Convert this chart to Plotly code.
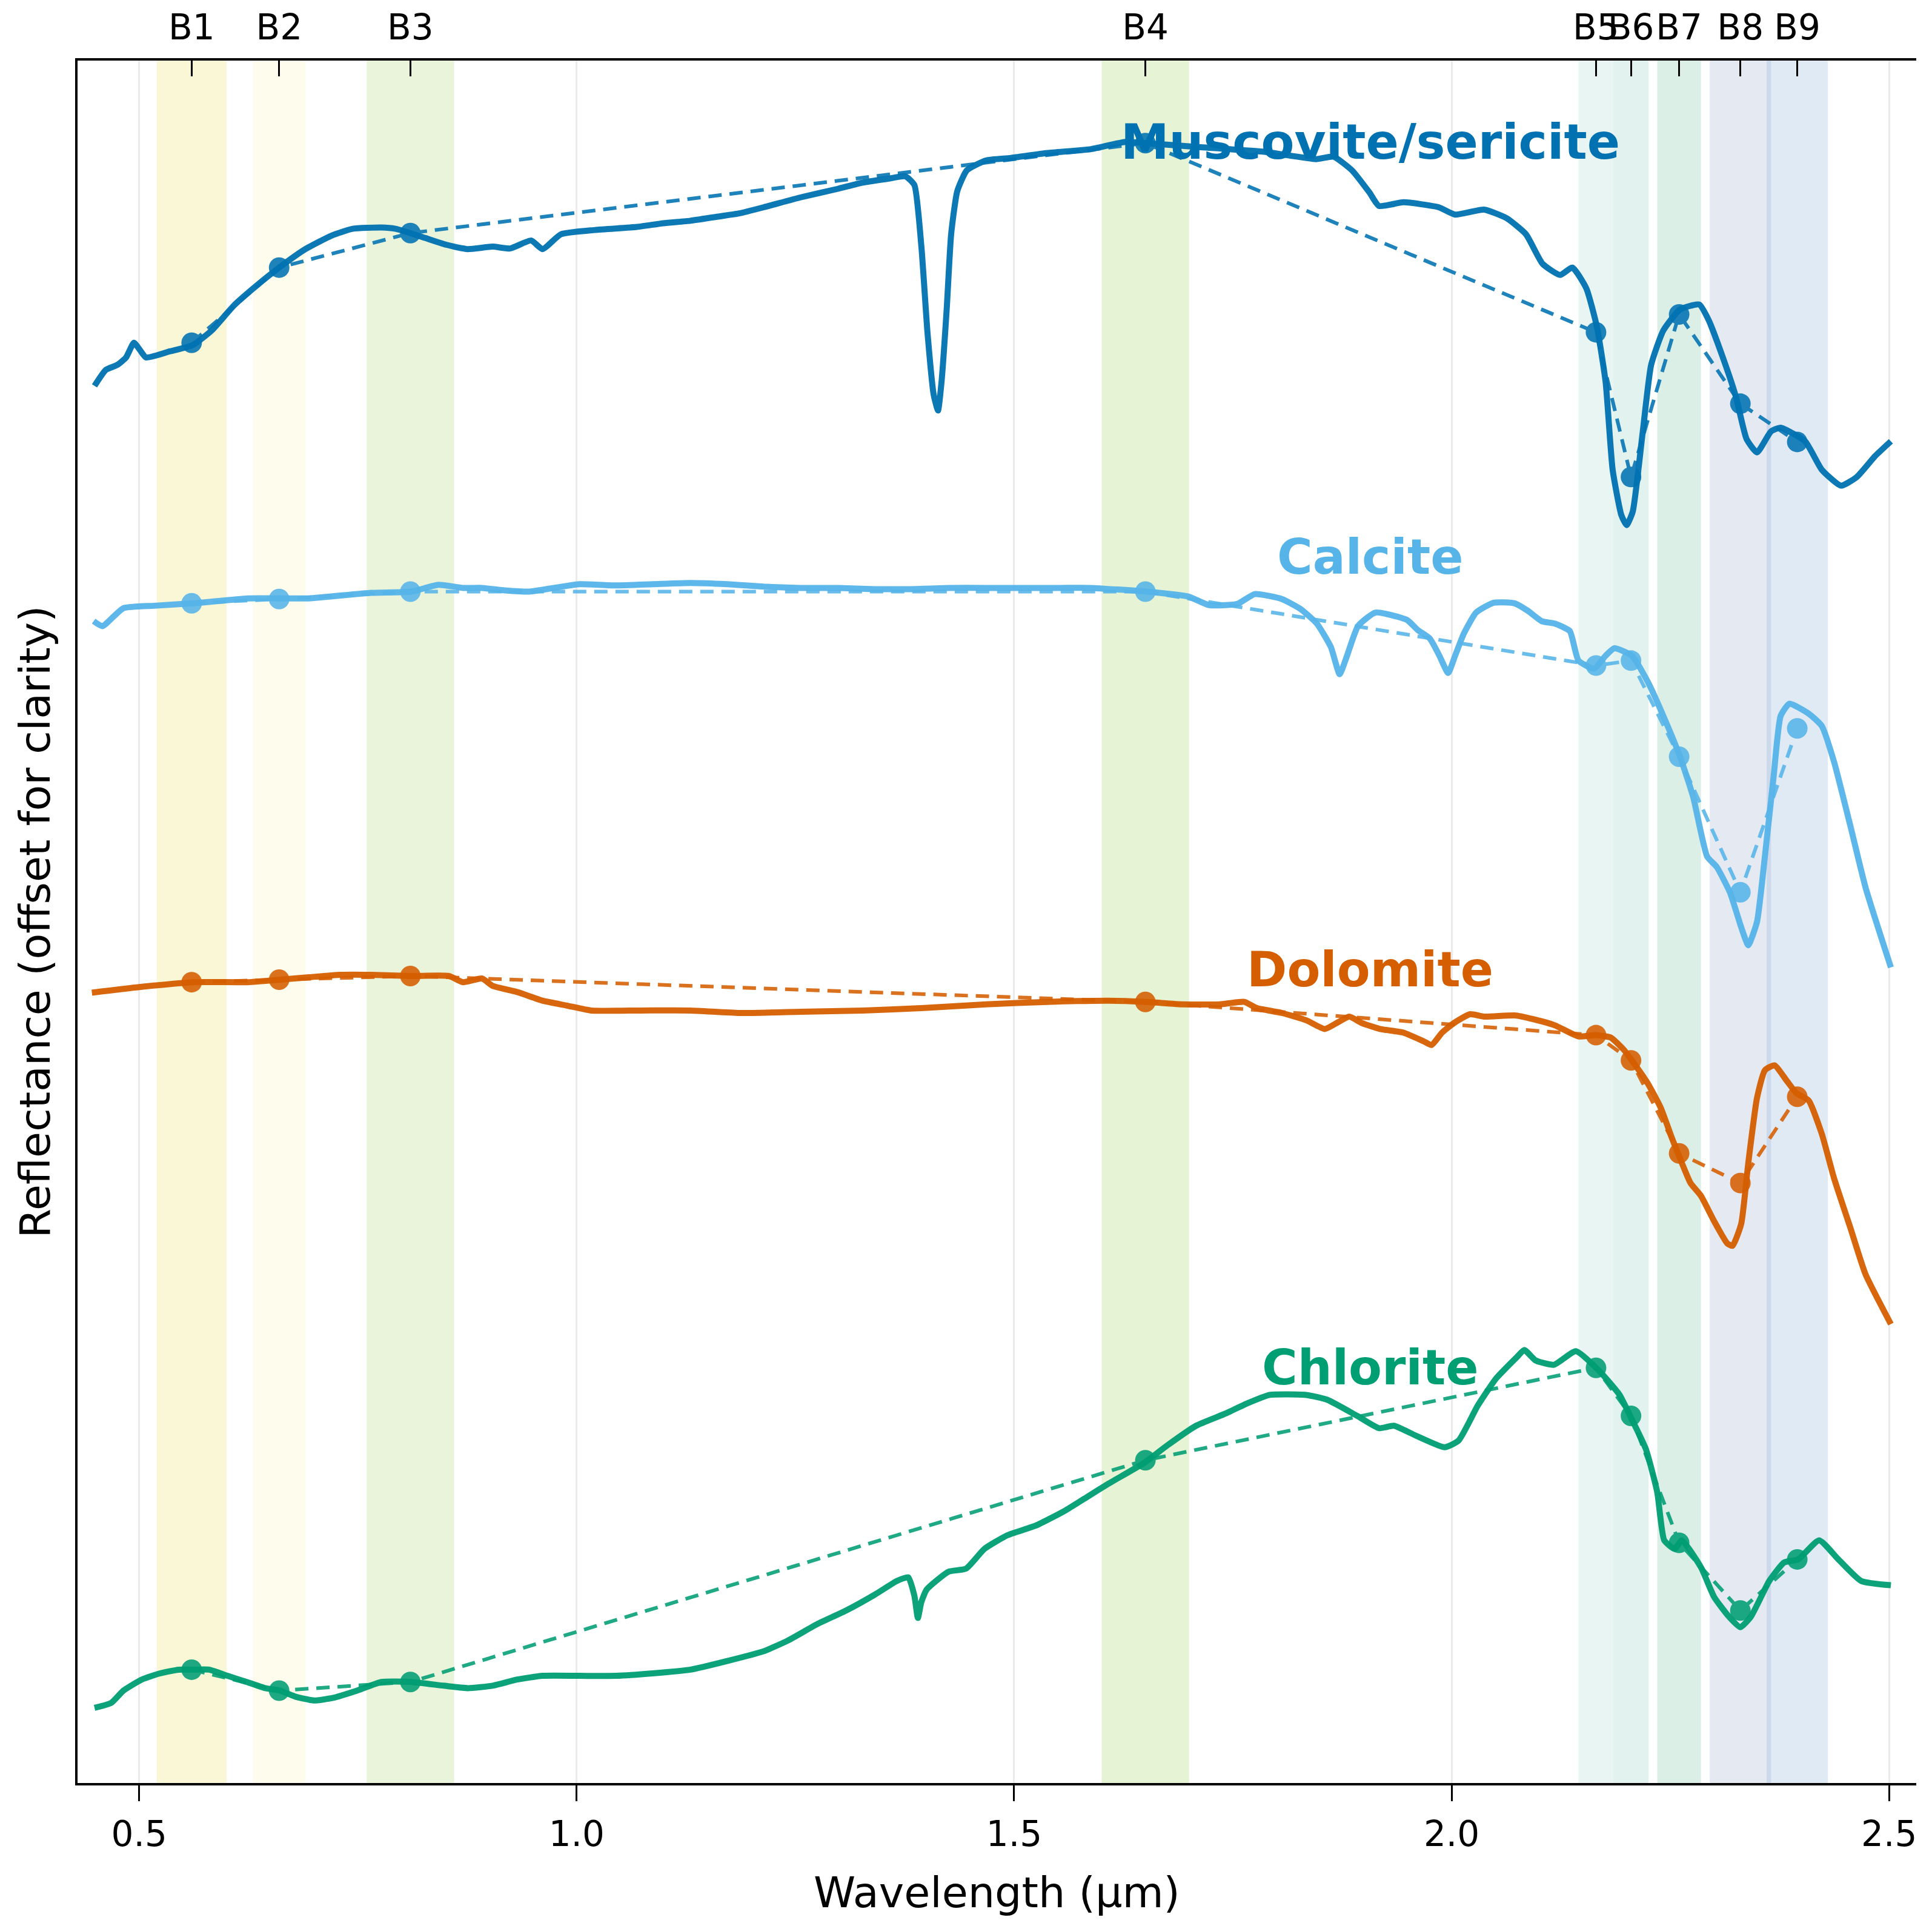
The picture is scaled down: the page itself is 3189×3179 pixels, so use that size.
#!/usr/bin/env python3

import plotly.graph_objects as go

# ASTER bands (um)
band_names = ['B1', 'B2', 'B3', 'B4', 'B5', 'B6', 'B7', 'B8', 'B9']
band_centers = [0.56, 0.66, 0.81, 1.65, 2.165, 2.205, 2.26, 2.33, 2.395]
band_lo = [0.52, 0.63, 0.76, 1.60, 2.145, 2.185, 2.235, 2.295, 2.360]
band_hi = [0.60, 0.69, 0.86, 1.70, 2.185, 2.225, 2.285, 2.365, 2.430]
band_fill = ['rgba(235,225,90,0.25)', 'rgba(245,235,130,0.15)', 'rgba(170,210,110,0.25)',
             'rgba(165,210,100,0.27)', 'rgba(150,210,195,0.22)', 'rgba(140,205,190,0.25)',
             'rgba(110,190,160,0.25)', 'rgba(160,175,210,0.28)', 'rgba(130,170,215,0.25)']

# spectra, offset for clarity
musc_wl = [0.449, 0.462, 0.475, 0.485, 0.494, 0.501, 0.508, 0.535, 0.561, 0.583, 0.608, 0.632,
           0.662, 0.690, 0.720, 0.744, 0.777, 0.793, 0.810, 0.827, 0.851, 0.875, 0.904, 0.924,
           0.948, 0.961, 0.982, 1.021, 1.069, 1.099, 1.130, 1.158, 1.186, 1.214, 1.256, 1.299,
           1.327, 1.355, 1.376, 1.386, 1.394, 1.401, 1.408, 1.413, 1.417, 1.423, 1.428, 1.435,
           1.446, 1.468, 1.496, 1.538, 1.587, 1.627, 1.651, 1.706, 1.786, 1.845, 1.865, 1.886,
           1.906, 1.917, 1.945, 1.985, 2.004, 2.037, 2.063, 2.085, 2.104, 2.124, 2.138, 2.154,
           2.166, 2.176, 2.184, 2.194, 2.200, 2.207, 2.218, 2.228, 2.242, 2.261, 2.283, 2.294,
           2.313, 2.325, 2.337, 2.349, 2.365, 2.376, 2.404, 2.423, 2.445, 2.463, 2.484, 2.502]
musc_r = [11.34, 11.47, 11.51, 11.57, 11.69, 11.63, 11.57, 11.62, 11.67, 11.79, 11.99, 12.14,
          12.31, 12.45, 12.56, 12.615, 12.625, 12.615, 12.58, 12.54, 12.485, 12.45, 12.47, 12.455,
          12.52, 12.45, 12.57, 12.605, 12.63, 12.66, 12.68, 12.71, 12.74, 12.79, 12.87, 12.94,
          12.99, 13.02, 13.04, 12.97, 12.47, 11.77, 11.27, 11.14, 11.37, 11.97, 12.57, 12.92,
          13.09, 13.17, 13.19, 13.23, 13.26, 13.32, 13.31, 13.28, 13.24, 13.18, 13.20, 13.09,
          12.91, 12.80, 12.83, 12.79, 12.73, 12.77, 12.70, 12.57, 12.33, 12.24, 12.30, 12.13,
          11.82, 11.37, 10.66, 10.29, 10.21, 10.32, 10.94, 11.51, 11.79, 11.96, 12.00, 11.87,
          11.51, 11.25, 10.91, 10.80, 10.97, 11.00, 10.89, 10.66, 10.53, 10.60, 10.77, 10.89]

calc_wl = [0.448, 0.458, 0.482, 0.517, 0.562, 0.624, 0.661, 0.694, 0.765, 0.811, 0.842, 0.870,
           0.892, 0.918, 0.946, 1.003, 1.045, 1.087, 1.130, 1.172, 1.214, 1.256, 1.299, 1.341,
           1.383, 1.425, 1.468, 1.510, 1.552, 1.587, 1.651, 1.699, 1.723, 1.755, 1.775, 1.806,
           1.827, 1.846, 1.862, 1.872, 1.880, 1.893, 1.913, 1.949, 1.961, 1.975, 1.986, 1.996,
           2.004, 2.014, 2.028, 2.048, 2.072, 2.087, 2.103, 2.118, 2.135, 2.145, 2.163, 2.176,
           2.186, 2.206, 2.224, 2.242, 2.261, 2.276, 2.292, 2.303, 2.318, 2.331, 2.339, 2.349,
           2.358, 2.368, 2.376, 2.386, 2.408, 2.423, 2.437, 2.456, 2.473, 2.502]
calc_r = [9.43, 9.39, 9.535, 9.555, 9.575, 9.615, 9.615, 9.615, 9.66, 9.67, 9.725, 9.70,
          9.70, 9.68, 9.67, 9.73, 9.72, 9.73, 9.74, 9.73, 9.71, 9.70, 9.70, 9.69,
          9.69, 9.70, 9.70, 9.70, 9.70, 9.70, 9.67, 9.63, 9.56, 9.57, 9.65, 9.61,
          9.53, 9.41, 9.22, 9.00, 9.14, 9.39, 9.50, 9.44, 9.36, 9.29, 9.15, 9.01,
          9.15, 9.33, 9.50, 9.58, 9.575, 9.515, 9.43, 9.41, 9.35, 9.11, 9.045, 9.15,
          9.21, 9.15, 8.94, 8.66, 8.33, 8.005, 7.52, 7.435, 7.23, 6.945, 6.80, 6.99,
          7.52, 8.17, 8.66, 8.76, 8.68, 8.58, 8.29, 7.76, 7.27, 6.62]

dolo_wl = [0.446, 0.500, 0.562, 0.624, 0.661, 0.694, 0.730, 0.765, 0.811, 0.854, 0.870, 0.892,
           0.904, 0.932, 0.961, 0.989, 1.017, 1.073, 1.130, 1.186, 1.256, 1.327, 1.397, 1.468,
           1.538, 1.608, 1.651, 1.693, 1.735, 1.763, 1.777, 1.806, 1.834, 1.855, 1.869, 1.883,
           1.897, 1.918, 1.945, 1.968, 1.977, 1.989, 2.003, 2.021, 2.038, 2.072, 2.093, 2.118,
           2.145, 2.165, 2.182, 2.197, 2.206, 2.224, 2.239, 2.252, 2.261, 2.273, 2.285, 2.300,
           2.315, 2.321, 2.331, 2.339, 2.349, 2.358, 2.369, 2.383, 2.394, 2.408, 2.423, 2.437,
           2.456, 2.473, 2.502]
dolo_r = [6.415, 6.46, 6.50, 6.50, 6.52, 6.54, 6.56, 6.56, 6.55, 6.55, 6.50, 6.53,
          6.47, 6.42, 6.35, 6.31, 6.27, 6.27, 6.27, 6.25, 6.26, 6.27, 6.29, 6.32,
          6.34, 6.35, 6.34, 6.32, 6.32, 6.34, 6.29, 6.25, 6.19, 6.12, 6.17, 6.22,
          6.17, 6.12, 6.09, 6.02, 5.99, 6.09, 6.17, 6.24, 6.22, 6.23, 6.20, 6.15,
          6.06, 6.07, 6.05, 5.95, 5.865, 5.68, 5.48, 5.23, 5.07, 4.87, 4.765, 4.56,
          4.38, 4.36, 4.54, 5.03, 5.56, 5.785, 5.825, 5.70, 5.60, 5.54, 5.27, 4.91,
          4.50, 4.13, 3.725]

chlo_wl = [0.449, 0.468, 0.482, 0.503, 0.524, 0.545, 0.561, 0.580, 0.601, 0.623, 0.644, 0.661,
           0.679, 0.700, 0.721, 0.749, 0.777, 0.811, 0.848, 0.876, 0.904, 0.932, 0.961, 1.003,
           1.045, 1.087, 1.130, 1.172, 1.214, 1.241, 1.275, 1.308, 1.341, 1.366, 1.379, 1.386,
           1.390, 1.394, 1.400, 1.425, 1.445, 1.466, 1.492, 1.525, 1.558, 1.583, 1.608, 1.649,
           1.675, 1.708, 1.742, 1.766, 1.792, 1.834, 1.858, 1.892, 1.917, 1.934, 1.959, 1.992,
           2.008, 2.030, 2.051, 2.075, 2.083, 2.096, 2.117, 2.142, 2.168, 2.192, 2.204, 2.222,
           2.235, 2.243, 2.255, 2.263, 2.285, 2.300, 2.317, 2.330, 2.342, 2.363, 2.380, 2.396,
           2.420, 2.442, 2.468, 2.502]
chlo_r = [0.61, 0.65, 0.75, 0.84, 0.89, 0.92, 0.92, 0.92, 0.87, 0.82, 0.77, 0.75,
          0.70, 0.67, 0.69, 0.75, 0.82, 0.82, 0.79, 0.77, 0.79, 0.84, 0.87, 0.87,
          0.87, 0.89, 0.92, 0.99, 1.07, 1.155, 1.29, 1.40, 1.53, 1.64, 1.67, 1.52,
          1.34, 1.47, 1.57, 1.715, 1.74, 1.90, 2.01, 2.09, 2.21, 2.32, 2.43, 2.60,
          2.74, 2.90, 3.00, 3.08, 3.15, 3.15, 3.11, 2.98, 2.88, 2.90, 2.82, 2.725,
          2.78, 3.065, 3.285, 3.46, 3.515, 3.43, 3.395, 3.505, 3.35, 3.15, 2.98, 2.71,
          2.36, 1.97, 1.90, 1.97, 1.75, 1.51, 1.35, 1.265, 1.35, 1.64, 1.79, 1.815,
          1.97, 1.815, 1.64, 1.605]

# band-averaged values (ASTER resampled)
musc_band = [11.69, 12.30, 12.58, 13.31, 11.775, 10.60, 11.92, 11.195, 10.885]
calc_band = [9.575, 9.61, 9.67, 9.67, 9.07, 9.11, 8.33, 7.23, 8.56]
dolo_band = [6.50, 6.52, 6.55, 6.34, 6.07, 5.865, 5.11, 4.87, 5.57]
chlo_band = [0.92, 0.75, 0.82, 2.62, 3.37, 2.98, 1.95, 1.40, 1.815]

minerals = ['Muscovite/sericite', 'Calcite', 'Dolomite', 'Chlorite']
colors = ['#0072B2', '#56B4E9', '#D55E00', '#009E73']
label_x = 1.907
label_y = [13.32, 9.95, 6.60, 3.37]

spectra = [(musc_wl, musc_r, musc_band), (calc_wl, calc_r, calc_band),
           (dolo_wl, dolo_r, dolo_band), (chlo_wl, chlo_r, chlo_band)]

FONT = 'DejaVu Sans'

fig = go.Figure()

for (wl, r, bv), name, col in zip(spectra, minerals, colors):
    fig.add_trace(go.Scatter(x=wl, y=r, mode='lines', name=name,
                             line=dict(color=col, width=10, shape='spline', smoothing=0.5),
                             opacity=0.95, showlegend=False))
    fig.add_trace(go.Scatter(x=band_centers, y=bv, mode='lines+markers', name=name + ' (ASTER)',
                             line=dict(color=col, width=6, dash='22px,13px'),
                             marker=dict(size=34, color=col),
                             opacity=0.88, showlegend=False))

# invisible trace so the top band axis is drawn
fig.add_trace(go.Scatter(x=band_centers, y=musc_band, xaxis='x2', mode='markers',
                         marker=dict(opacity=0), hoverinfo='skip', showlegend=False))

for lo, hi, fc in zip(band_lo, band_hi, band_fill):
    fig.add_shape(type='rect', xref='x', yref='paper', x0=lo, x1=hi, y0=0, y1=1,
                  fillcolor=fc, line=dict(width=0), layer='below')

for name, col, ly in zip(minerals, colors, label_y):
    fig.add_annotation(x=label_x, y=ly, text=name, showarrow=False, xanchor='center',
                       yanchor='middle',
                       font=dict(family=FONT, size=80, color=col, weight='bold'))

xrange = [0.4296, 2.531]

# page body has an 8px margin, so the figure is a bit smaller than the window
fig.update_layout(
    width=3181, height=3171,
    margin=dict(l=120, r=26, t=92, b=236),
    plot_bgcolor='white', paper_bgcolor='white',
    font=dict(family=FONT, size=58, color='black'),
    xaxis=dict(range=xrange, tickvals=[0.5, 1.0, 1.5, 2.0, 2.5],
               ticktext=['0.5', '1.0', '1.5', '2.0', '2.5'], tickangle=0, automargin=False,
               ticks='outside', ticklen=26, tickwidth=3, tickcolor='black',
               showline=True, linecolor='black', linewidth=4,
               showgrid=True, gridcolor='#ebebeb', gridwidth=3, zeroline=False,
               tickfont=dict(size=58), ticklabelstandoff=4,
               title=dict(text='Wavelength (µm)', font=dict(size=70), standoff=40)),
    # band ticks on top point into the plot
    xaxis2=dict(range=xrange, overlaying='x', side='top', tickvals=band_centers,
                ticktext=band_names, tickangle=0, automargin=False, ticklabelstandoff=8,
                ticks='inside', ticklen=26, tickwidth=3,
                tickcolor='black', showline=True, linecolor='black', linewidth=4,
                showgrid=False, zeroline=False, tickfont=dict(size=58)),
    yaxis=dict(range=[0, 13.98], showticklabels=False, ticks='', showgrid=False,
               zeroline=False, showline=True, linecolor='black', linewidth=4,
               automargin=False,
               title=dict(text='Reflectance (offset for clarity)', font=dict(size=70),
                          standoff=20)),
)

fig.write_html('out.html')
